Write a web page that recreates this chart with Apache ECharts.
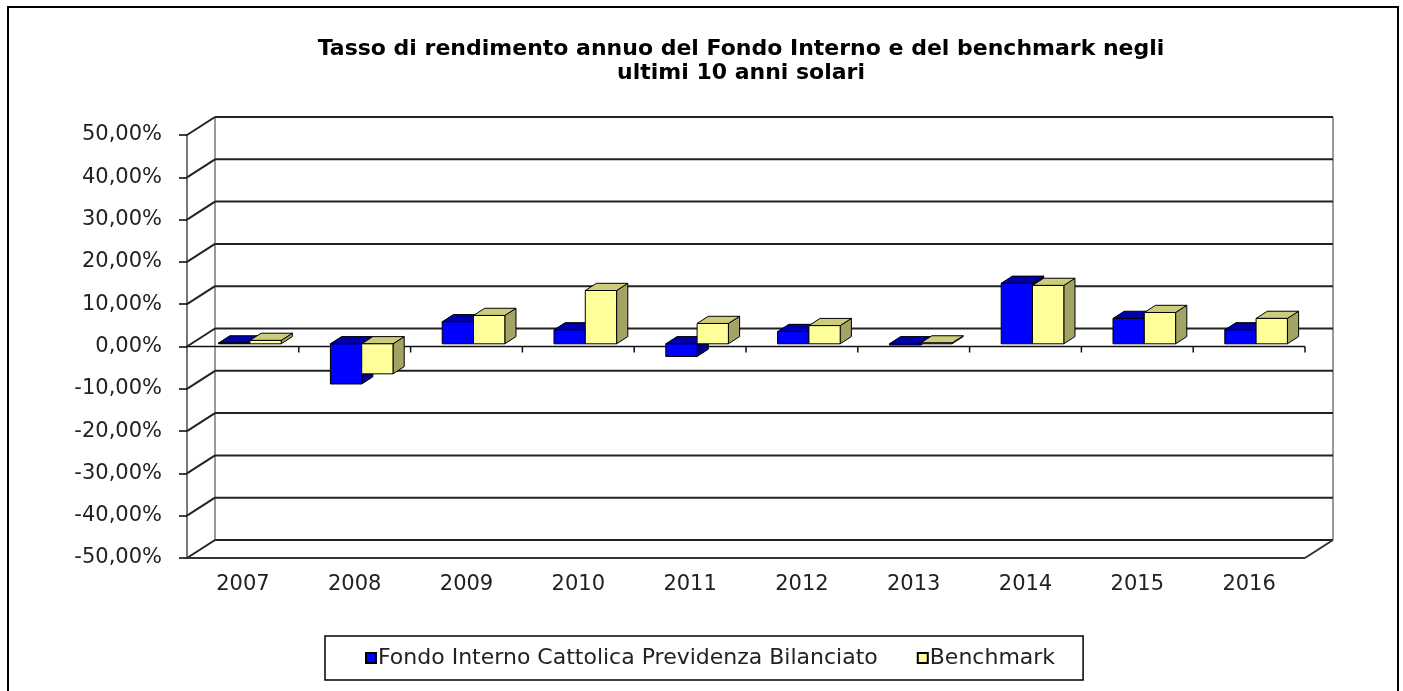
<!DOCTYPE html>
<html>
<head>
<meta charset="utf-8">
<script src="https://cdn.jsdelivr.net/npm/echarts@6/dist/echarts.min.js"></script>
<style>
  html, body { margin: 0; padding: 0; background: #fff; }
  #chart { width: 1403px; height: 691px; }
</style>
</head>
<body>
<div id="chart"></div>
<script>
// dati (rendimenti annui in %)
const YEARS = ["2007", "2008", "2009", "2010", "2011", "2012", "2013", "2014", "2015", "2016"];
const FONDO = [0.2, -9.5, 5.2, 3.3, -3.0, 2.9, -0.3, 14.3, 6.0, 3.3];
const BENCHMARK = [0.8, -7.1, 6.7, 12.6, 4.8, 4.3, 0.2, 13.8, 7.4, 6.0];
const Y_TICKS = [-50, -40, -30, -20, -10, 0, 10, 20, 30, 40, 50];

const SERIES_NAMES = ["Fondo Interno Cattolica Previdenza Bilanciato", "Benchmark"];

// finta prospettiva 3D (stile Excel): profondità della parete di fondo
const WALL_DX = 28;
const WALL_DY = -18;
const BAR_FRONT = 0.15; // frazione di profondità della faccia anteriore
const BAR_BACK = 0.55;
const BAR_W = 0.28; // larghezza barra rispetto alla banda della categoria
const BAR_START = 0.245;

const FONT = "DejaVu Sans";
const TEXT = "#222";

const BLUE = { front: "#0000ff", top: "#0000a8", side: "#000080" };
const YELLOW = { front: "#ffff99", top: "#cccc7a", side: "#a3a366" };

function wallsItem(params, api) {
  const cs = params.coordSys;
  const band = api.size([1, 0])[0];
  const line = (x1, y1, x2, y2, color, w) => ({
    type: "line",
    shape: { x1: x1, y1: y1, x2: x2, y2: y2 },
    style: { stroke: color, lineWidth: w },
  });
  const left = cs.x, right = cs.x + cs.width;
  const top = cs.y, bottom = cs.y + cs.height;
  const kids = [];
  // pareti: bordi verticali della parete di fondo
  kids.push(line(left + WALL_DX, top + WALL_DY, left + WALL_DX, bottom + WALL_DY, "#999", 2));
  kids.push(line(right + WALL_DX, top + WALL_DY, right + WALL_DX, bottom + WALL_DY, "#999", 2));
  // griglia orizzontale sulla parete laterale e di fondo
  Y_TICKS.forEach((v) => {
    const y = api.coord([0, v])[1];
    kids.push(line(left, y, left + WALL_DX, y + WALL_DY, "#222", 2));
    kids.push(line(left + WALL_DX, y + WALL_DY, right + WALL_DX, y + WALL_DY, "#222", 2));
  });
  // pavimento
  kids.push(line(left, bottom, right, bottom, "#333", 2));
  kids.push(line(right, bottom, right + WALL_DX, bottom + WALL_DY, "#333", 2));
  // asse delle categorie sullo zero
  const y0 = api.coord([0, 0])[1];
  kids.push(line(left, y0, right, y0, "#111", 1.5));
  for (let k = 0; k < YEARS.length; k++) {
    const xk = api.coord([k, 0])[0] + band / 2;
    kids.push(line(xk, y0, xk, y0 + 6, "#111", 1.5));
  }
  return { type: "group", children: kids };
}

function barRenderer(slot, colors) {
  return function (params, api) {
    const i = api.value(0);
    const v = api.value(1);
    const band = api.size([1, 0])[0];
    const c0 = api.coord([i, 0]);
    const c1 = api.coord([i, v]);
    const w = BAR_W * band;
    const x0 = c0[0] - band / 2 + (BAR_START + slot * BAR_W) * band + WALL_DX * BAR_FRONT;
    const yTop = Math.min(c0[1], c1[1]) + WALL_DY * BAR_FRONT;
    const yBot = Math.max(c0[1], c1[1]) + WALL_DY * BAR_FRONT;
    const dx = WALL_DX * (BAR_BACK - BAR_FRONT);
    const dy = WALL_DY * (BAR_BACK - BAR_FRONT);
    const edge = { stroke: "#000", lineWidth: 1 };
    return {
      type: "group",
      children: [
        {
          type: "polygon",
          shape: { points: [[x0 + w, yTop], [x0 + w + dx, yTop + dy], [x0 + w + dx, yBot + dy], [x0 + w, yBot]] },
          style: Object.assign({ fill: colors.side }, edge),
        },
        {
          type: "polygon",
          shape: { points: [[x0, yTop], [x0 + w, yTop], [x0 + w + dx, yTop + dy], [x0 + dx, yTop + dy]] },
          style: Object.assign({ fill: colors.top }, edge),
        },
        {
          type: "rect",
          shape: { x: x0, y: yTop, width: w, height: yBot - yTop },
          style: Object.assign({ fill: colors.front }, edge),
        },
      ],
    };
  };
}

const chart = echarts.init(document.getElementById("chart"));

chart.setOption({
  backgroundColor: "#fff",
  animation: false,
  title: {
    text: "Tasso di rendimento annuo del Fondo Interno e del benchmark negli\nultimi 10 anni solari",
    left: 736,
    top: 32,
    textAlign: "center",
    textStyle: { fontFamily: FONT, fontSize: 22, fontWeight: "bold", color: "#000", lineHeight: 24 },
  },
  legend: {
    data: SERIES_NAMES,
    left: 325,
    top: 636,
    padding: [11, 28, 11, 40],
    itemGap: 39,
    itemWidth: 10,
    itemHeight: 10,
    icon: "rect",
    borderColor: "#000",
    borderWidth: 1.5,
    textStyle: { fontFamily: FONT, fontSize: 22, color: TEXT, padding: [0, 0, 0, -3] },
  },
  graphic: [
    {
      type: "rect",
      shape: { x: 8, y: 7, width: 1390, height: 720 },
      style: { fill: "none", stroke: "#000", lineWidth: 2 },
      silent: true,
    },
  ],
  grid: { left: 187, right: 98, top: 135, bottom: 133 },
  xAxis: {
    type: "category",
    data: YEARS,
    axisLine: { show: false, onZero: false },
    axisTick: { show: false },
    splitLine: { show: false },
    axisLabel: { margin: 16, fontFamily: FONT, fontSize: 21, color: TEXT },
  },
  yAxis: {
    type: "value",
    min: -50,
    max: 50,
    interval: 10,
    axisLine: { show: true, lineStyle: { color: "#777", width: 2 } },
    axisTick: { show: true, length: 8, lineStyle: { color: "#000", width: 1.5 } },
    splitLine: { show: false },
    axisLabel: {
      margin: 25,
      fontFamily: FONT,
      fontSize: 21,
      color: TEXT,
      formatter: (v) => v.toFixed(2).replace(".", ",") + "%",
    },
  },
  series: [
    {
      type: "custom",
      name: "walls",
      z: 1,
      silent: true,
      renderItem: wallsItem,
      data: [[0, 0]],
    },
    {
      type: "custom",
      name: SERIES_NAMES[0],
      z: 3,
      itemStyle: { color: BLUE.front, borderColor: "#000", borderWidth: 1 },
      renderItem: barRenderer(0, BLUE),
      data: FONDO.map((v, i) => [i, v]),
    },
    {
      type: "custom",
      name: SERIES_NAMES[1],
      z: 3,
      itemStyle: { color: YELLOW.front, borderColor: "#000", borderWidth: 1 },
      renderItem: barRenderer(1, YELLOW),
      data: BENCHMARK.map((v, i) => [i, v]),
    },
  ],
});
</script>
</body>
</html>
